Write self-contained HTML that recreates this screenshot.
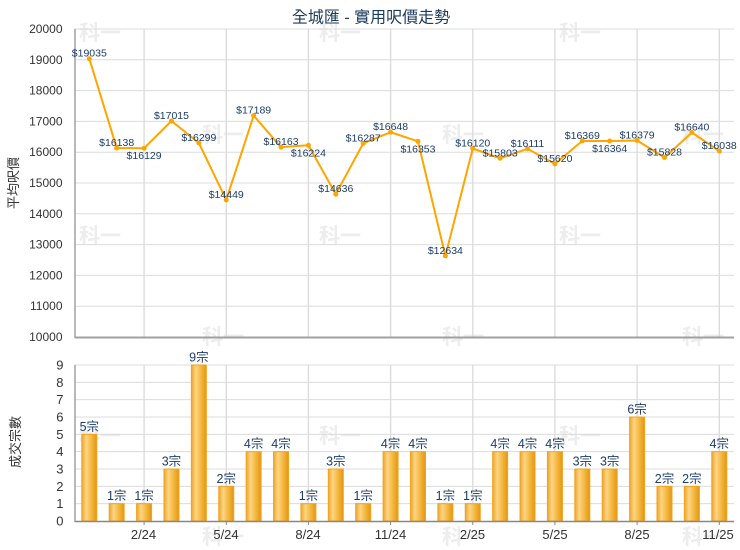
<!DOCTYPE html>
<html><head><meta charset="utf-8"><style>
html,body{margin:0;padding:0;background:#fff;}
svg{display:block;font-family:"Liberation Sans","Noto Sans CJK TC",sans-serif;}
</style></head><body>
<svg width="740" height="550" viewBox="0 0 740 550" xmlns="http://www.w3.org/2000/svg">
<defs>
<linearGradient id="bg" x1="0" y1="0" x2="1" y2="0">
<stop offset="0" stop-color="#eea52c"/>
<stop offset="0.3" stop-color="#fcd585"/>
<stop offset="0.6" stop-color="#f6bb45"/>
<stop offset="1" stop-color="#e39612"/>
</linearGradient>
</defs>
<rect width="740" height="550" fill="#fff"/>
<!-- watermarks -->
<g fill="#ededed" font-size="21" font-weight="bold" text-anchor="middle">
<text x="100" y="40">科一</text><text x="340" y="40">科一</text><text x="580" y="40">科一</text>
<text x="223" y="142">科一</text><text x="463" y="142">科一</text><text x="703" y="142">科一</text>
<text x="100" y="243">科一</text><text x="340" y="243">科一</text><text x="580" y="243">科一</text>
<text x="223" y="344">科一</text><text x="463" y="344">科一</text><text x="703" y="344">科一</text>
<text x="100" y="443">科一</text><text x="340" y="443">科一</text><text x="580" y="443">科一</text>
<text x="223" y="544">科一</text><text x="463" y="544">科一</text><text x="703" y="544">科一</text>
</g>
<!-- title -->
<text x="371" y="22.5" font-size="16" fill="#1b3a5c" text-anchor="middle">全城匯 - 實用呎價走勢</text>

<!-- top chart grid -->
<g stroke="#dcdcdc" stroke-width="1">
<line x1="75" y1="29" x2="734" y2="29"/>
<line x1="75" y1="59.8" x2="734" y2="59.8"/>
<line x1="75" y1="90.6" x2="734" y2="90.6"/>
<line x1="75" y1="121.4" x2="734" y2="121.4"/>
<line x1="75" y1="152.2" x2="734" y2="152.2"/>
<line x1="75" y1="183" x2="734" y2="183"/>
<line x1="75" y1="213.8" x2="734" y2="213.8"/>
<line x1="75" y1="244.6" x2="734" y2="244.6"/>
<line x1="75" y1="275.4" x2="734" y2="275.4"/>
<line x1="75" y1="306.2" x2="734" y2="306.2"/>
</g>
<g stroke="#dcdcdc" stroke-width="1.4">
<line x1="144.1" y1="29" x2="144.1" y2="337"/>
<line x1="226.3" y1="29" x2="226.3" y2="337"/>
<line x1="308.4" y1="29" x2="308.4" y2="337"/>
<line x1="390.6" y1="29" x2="390.6" y2="337"/>
<line x1="472.8" y1="29" x2="472.8" y2="337"/>
<line x1="554.9" y1="29" x2="554.9" y2="337"/>
<line x1="637.1" y1="29" x2="637.1" y2="337"/>
<line x1="719.3" y1="29" x2="719.3" y2="337"/>
</g>
<line x1="75" y1="29" x2="75" y2="338" stroke="#a0a0a0" stroke-width="1.5"/>
<line x1="75" y1="337.5" x2="734" y2="337.5" stroke="#a0a0a0" stroke-width="2"/>
<!-- top y labels -->
<g font-size="12" fill="#333" text-anchor="end">
<text x="62.5" y="33">20000</text>
<text x="62.5" y="63.8">19000</text>
<text x="62.5" y="94.6">18000</text>
<text x="62.5" y="125.4">17000</text>
<text x="62.5" y="156.2">16000</text>
<text x="62.5" y="187">15000</text>
<text x="62.5" y="217.8">14000</text>
<text x="62.5" y="248.6">13000</text>
<text x="62.5" y="279.4">12000</text>
<text x="62.5" y="310.2">11000</text>
<text x="62.5" y="341">10000</text>
</g>
<text transform="translate(18,183) rotate(-90)" font-size="13" fill="#333" text-anchor="middle">平均呎價</text>

<!-- line -->
<polyline fill="none" stroke="#ffa500" stroke-width="2" stroke-linejoin="round" points="89.3,58.72 116.69,147.95 144.08,148.23 171.47,120.94 198.86,142.99 226.25,199.97 253.64,115.58 281.03,147.18 308.42,145.3 335.81,194.21 363.2,143.36 390.59,132.24 417.98,141.33 445.37,255.87 472.76,148.5 500.15,158.27 527.54,148.78 554.93,163.9 582.32,140.83 609.71,140.99 637.1,140.53 664.49,157.5 691.88,132.49 719.27,151.03"/>
<g fill="#ffa500">
<circle cx="89.3" cy="58.72" r="2.5"/><circle cx="116.69" cy="147.95" r="2.5"/><circle cx="144.08" cy="148.23" r="2.5"/><circle cx="171.47" cy="120.94" r="2.5"/><circle cx="198.86" cy="142.99" r="2.5"/><circle cx="226.25" cy="199.97" r="2.5"/><circle cx="253.64" cy="115.58" r="2.5"/><circle cx="281.03" cy="147.18" r="2.5"/><circle cx="308.42" cy="145.3" r="2.5"/><circle cx="335.81" cy="194.21" r="2.5"/><circle cx="363.2" cy="143.36" r="2.5"/><circle cx="390.59" cy="132.24" r="2.5"/><circle cx="417.98" cy="141.33" r="2.5"/><circle cx="445.37" cy="255.87" r="2.5"/><circle cx="472.76" cy="148.5" r="2.5"/><circle cx="500.15" cy="158.27" r="2.5"/><circle cx="527.54" cy="148.78" r="2.5"/><circle cx="554.93" cy="163.9" r="2.5"/><circle cx="582.32" cy="140.83" r="2.5"/><circle cx="609.71" cy="140.99" r="2.5"/><circle cx="637.1" cy="140.53" r="2.5"/><circle cx="664.49" cy="157.5" r="2.5"/><circle cx="691.88" cy="132.49" r="2.5"/><circle cx="719.27" cy="151.03" r="2.5"/>
</g>
<g font-size="10.5" fill="#1c3d6b" text-anchor="middle">
<text x="89.3" y="56.7">$19035</text>
<text x="116.69" y="146">$16138</text>
<text x="144.08" y="159.2">$16129</text>
<text x="171.47" y="119">$17015</text>
<text x="198.86" y="141">$16299</text>
<text x="226.25" y="198">$14449</text>
<text x="253.64" y="113.6">$17189</text>
<text x="281.03" y="145.2">$16163</text>
<text x="308.42" y="156.3">$16224</text>
<text x="335.81" y="192.2">$14636</text>
<text x="363.2" y="141.4">$16287</text>
<text x="390.59" y="130.2">$16648</text>
<text x="417.98" y="152.3">$16353</text>
<text x="445.37" y="253.9">$12634</text>
<text x="472.76" y="146.5">$16120</text>
<text x="500.15" y="156.3">$15803</text>
<text x="527.54" y="146.8">$16111</text>
<text x="554.93" y="161.9">$15620</text>
<text x="582.32" y="138.8">$16369</text>
<text x="609.71" y="152">$16364</text>
<text x="637.1" y="138.5">$16379</text>
<text x="664.49" y="155.5">$15828</text>
<text x="691.88" y="130.5">$16640</text>
<text x="719.27" y="149">$16038</text>
</g>

<!-- bottom chart grid -->
<g stroke="#dcdcdc" stroke-width="1">
<line x1="75" y1="365" x2="734" y2="365"/>
<line x1="75" y1="382.33" x2="734" y2="382.33"/>
<line x1="75" y1="399.67" x2="734" y2="399.67"/>
<line x1="75" y1="417" x2="734" y2="417"/>
<line x1="75" y1="434.33" x2="734" y2="434.33"/>
<line x1="75" y1="451.67" x2="734" y2="451.67"/>
<line x1="75" y1="469" x2="734" y2="469"/>
<line x1="75" y1="486.33" x2="734" y2="486.33"/>
<line x1="75" y1="503.67" x2="734" y2="503.67"/>
</g>
<g stroke="#dcdcdc" stroke-width="1.4">
<line x1="144.1" y1="365" x2="144.1" y2="521"/>
<line x1="226.3" y1="365" x2="226.3" y2="521"/>
<line x1="308.4" y1="365" x2="308.4" y2="521"/>
<line x1="390.6" y1="365" x2="390.6" y2="521"/>
<line x1="472.8" y1="365" x2="472.8" y2="521"/>
<line x1="554.9" y1="365" x2="554.9" y2="521"/>
<line x1="637.1" y1="365" x2="637.1" y2="521"/>
<line x1="719.3" y1="365" x2="719.3" y2="521"/>
</g>
<!-- bars -->
<g fill="url(#bg)" stroke="#f2a31c" stroke-width="1">
<rect x="81.8" y="434.33" width="15" height="86.67"/>
<rect x="109.19" y="503.67" width="15" height="17.33"/>
<rect x="136.58" y="503.67" width="15" height="17.33"/>
<rect x="163.97" y="469" width="15" height="52"/>
<rect x="191.36" y="365" width="15" height="156"/>
<rect x="218.75" y="486.33" width="15" height="34.67"/>
<rect x="246.14" y="451.67" width="15" height="69.33"/>
<rect x="273.53" y="451.67" width="15" height="69.33"/>
<rect x="300.92" y="503.67" width="15" height="17.33"/>
<rect x="328.31" y="469" width="15" height="52"/>
<rect x="355.7" y="503.67" width="15" height="17.33"/>
<rect x="383.09" y="451.67" width="15" height="69.33"/>
<rect x="410.48" y="451.67" width="15" height="69.33"/>
<rect x="437.87" y="503.67" width="15" height="17.33"/>
<rect x="465.26" y="503.67" width="15" height="17.33"/>
<rect x="492.65" y="451.67" width="15" height="69.33"/>
<rect x="520.04" y="451.67" width="15" height="69.33"/>
<rect x="547.43" y="451.67" width="15" height="69.33"/>
<rect x="574.82" y="469" width="15" height="52"/>
<rect x="602.21" y="469" width="15" height="52"/>
<rect x="629.6" y="417" width="15" height="104"/>
<rect x="656.99" y="486.33" width="15" height="34.67"/>
<rect x="684.38" y="486.33" width="15" height="34.67"/>
<rect x="711.77" y="451.67" width="15" height="69.33"/>
</g>
<g font-size="12.5" fill="#1c3d6b" text-anchor="middle">
<text x="89.3" y="430.8">5宗</text>
<text x="116.69" y="500.2">1宗</text>
<text x="144.08" y="500.2">1宗</text>
<text x="171.47" y="465.5">3宗</text>
<text x="198.86" y="361.5">9宗</text>
<text x="226.25" y="482.8">2宗</text>
<text x="253.64" y="448.2">4宗</text>
<text x="281.03" y="448.2">4宗</text>
<text x="308.42" y="500.2">1宗</text>
<text x="335.81" y="465.5">3宗</text>
<text x="363.2" y="500.2">1宗</text>
<text x="390.59" y="448.2">4宗</text>
<text x="417.98" y="448.2">4宗</text>
<text x="445.37" y="500.2">1宗</text>
<text x="472.76" y="500.2">1宗</text>
<text x="500.15" y="448.2">4宗</text>
<text x="527.54" y="448.2">4宗</text>
<text x="554.93" y="448.2">4宗</text>
<text x="582.32" y="465.5">3宗</text>
<text x="609.71" y="465.5">3宗</text>
<text x="637.1" y="413.5">6宗</text>
<text x="664.49" y="482.8">2宗</text>
<text x="691.88" y="482.8">2宗</text>
<text x="719.27" y="448.2">4宗</text>
</g>
<line x1="75" y1="365" x2="75" y2="522" stroke="#a0a0a0" stroke-width="1.5"/>
<line x1="75" y1="521.5" x2="734" y2="521.5" stroke="#888" stroke-width="1.5"/>
<g stroke="#888" stroke-width="1">
<line x1="144.1" y1="521" x2="144.1" y2="525"/>
<line x1="226.3" y1="521" x2="226.3" y2="525"/>
<line x1="308.4" y1="521" x2="308.4" y2="525"/>
<line x1="390.6" y1="521" x2="390.6" y2="525"/>
<line x1="472.8" y1="521" x2="472.8" y2="525"/>
<line x1="554.9" y1="521" x2="554.9" y2="525"/>
<line x1="637.1" y1="521" x2="637.1" y2="525"/>
<line x1="719.3" y1="521" x2="719.3" y2="525"/>
</g>
<g font-size="13" fill="#333" text-anchor="end">
<text x="63.5" y="369.5">9</text>
<text x="63.5" y="386.8">8</text>
<text x="63.5" y="404.2">7</text>
<text x="63.5" y="421.5">6</text>
<text x="63.5" y="438.8">5</text>
<text x="63.5" y="456.2">4</text>
<text x="63.5" y="473.5">3</text>
<text x="63.5" y="490.8">2</text>
<text x="63.5" y="508.2">1</text>
<text x="63.5" y="525.5">0</text>
</g>
<g font-size="13" fill="#333" text-anchor="middle">
<text x="143.5" y="539">2/24</text>
<text x="226" y="539">5/24</text>
<text x="308" y="539">8/24</text>
<text x="390.5" y="539">11/24</text>
<text x="472.5" y="539">2/25</text>
<text x="555" y="539">5/25</text>
<text x="637" y="539">8/25</text>
<text x="718" y="539">11/25</text>
</g>
<text transform="translate(20,442) rotate(-90)" font-size="13" fill="#333" text-anchor="middle">成交宗數</text>
</svg>
</body></html>
